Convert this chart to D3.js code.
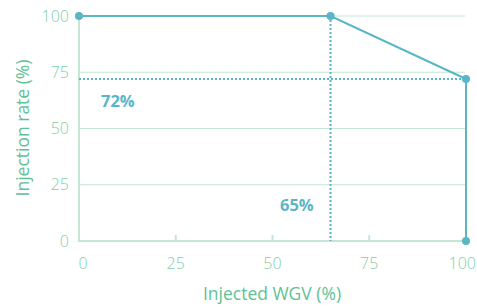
<!DOCTYPE html>
<html>
<head>
<meta charset="utf-8">
<script src="https://cdn.jsdelivr.net/npm/d3@7"></script>
<style>
  body { margin: 0; background: #fff; }
  svg text { font-family: "Open Sans", sans-serif; }
</style>
</head>
<body>
<div id="chart"></div>
<script>
// chart data
const wgv = [0, 65, 100, 100];
const rate = [100, 100, 72, 0];
const xTicks = [0, 25, 50, 75, 100];
const yTicks = [0, 25, 50, 75, 100];
const markX = 65;   // vertical dotted marker
const markY = 72;   // horizontal dotted marker

const width = 477, height = 307;
const padLeft = 79, padRight = 466, padTop = 16, padBottom = 241;

const lineColor = "#5ab6c6";
const gridColor = "#c4e6d4";
const textColor = "#7fcfa8";
const titleColor = "#5fc196";

const x = d3.scaleLinear().domain([0, 100]).range([padLeft, padRight]);
const y = d3.scaleLinear().domain([0, 100]).range([padBottom, padTop]);

const svg = d3.select("#chart").append("svg")
    .attr("width", width)
    .attr("height", height);

// gridlines
svg.append("g").selectAll("line")
    .data(yTicks.filter(d => d > 0))
    .enter().append("line")
    .attr("x1", x(0)).attr("x2", x(100) - 1)
    .attr("y1", d => y(d)).attr("y2", d => y(d))
    .attr("stroke", gridColor).attr("stroke-width", 1);

// axis lines
svg.append("line")
    .attr("x1", x(0)).attr("x2", x(0))
    .attr("y1", y(100)).attr("y2", y(0))
    .attr("stroke", gridColor).attr("stroke-width", 2);
svg.append("line")
    .attr("x1", x(0) - 1).attr("x2", x(100))
    .attr("y1", y(0)).attr("y2", y(0))
    .attr("stroke", gridColor).attr("stroke-width", 2);

// small x ticks
svg.append("g").selectAll("line")
    .data(xTicks.filter(d => d > 0 && d < 100))
    .enter().append("line")
    .attr("x1", d => x(d)).attr("x2", d => x(d))
    .attr("y1", y(0)).attr("y2", y(0) - 6)
    .attr("stroke", gridColor).attr("stroke-width", 2);

// tick labels
svg.append("g").selectAll("text")
    .data(yTicks)
    .enter().append("text")
    .attr("x", 69)
    .attr("y", d => y(d))
    .attr("dy", "0.35em")
    .attr("text-anchor", "end")
    .attr("font-size", 16)
    .attr("font-weight", 300)
    .attr("fill", textColor)
    .text(d => d);

// x labels: first and last nudged so they stay inside the frame
svg.append("g").selectAll("text")
    .data(xTicks)
    .enter().append("text")
    .attr("x", d => d === 0 ? x(d) + 4 : (d === 100 ? width - 1 : x(d)))
    .attr("y", 269)
    .attr("text-anchor", d => d === 100 ? "end" : "middle")
    .attr("font-size", 16)
    .attr("font-weight", 300)
    .attr("fill", textColor)
    .text(d => d);

// axis titles
svg.append("text")
    .attr("x", 272).attr("y", 300)
    .attr("text-anchor", "middle")
    .attr("font-size", 17.5)
    .attr("fill", titleColor)
    .text("Injected WGV (%)");

svg.append("text")
    .attr("transform", "rotate(-90)")
    .attr("x", -128).attr("y", 29)
    .attr("text-anchor", "middle")
    .attr("font-size", 17.5)
    .attr("fill", titleColor)
    .text("Injection rate (%)");

// dotted reference lines
svg.append("line")
    .attr("x1", x(0)).attr("x2", x(100))
    .attr("y1", y(markY)).attr("y2", y(markY))
    .attr("stroke", lineColor).attr("stroke-width", 2)
    .attr("stroke-dasharray", "2,2");
svg.append("line")
    .attr("x1", x(markX)).attr("x2", x(markX))
    .attr("y1", y(100)).attr("y2", y(0))
    .attr("stroke", lineColor).attr("stroke-width", 2)
    .attr("stroke-dasharray", "2,2");

// main line
const pts = wgv.map((d, i) => [d, rate[i]]);
svg.append("path")
    .datum(pts)
    .attr("fill", "none")
    .attr("stroke", lineColor)
    .attr("stroke-width", 2)
    .attr("d", d3.line().x(d => x(d[0])).y(d => y(d[1])));

svg.append("g").selectAll("circle")
    .data(pts)
    .enter().append("circle")
    .attr("cx", d => x(d[0]))
    .attr("cy", d => y(d[1]))
    .attr("r", 4)
    .attr("fill", lineColor);

// value labels
svg.append("text")
    .attr("x", 101).attr("y", 107)
    .attr("font-size", 16.5)
    .attr("font-weight", "bold")
    .attr("fill", lineColor)
    .text(markY + "%");
svg.append("text")
    .attr("x", 280).attr("y", 211)
    .attr("font-size", 16.5)
    .attr("font-weight", "bold")
    .attr("fill", lineColor)
    .text(markX + "%");
</script>
</body>
</html>
